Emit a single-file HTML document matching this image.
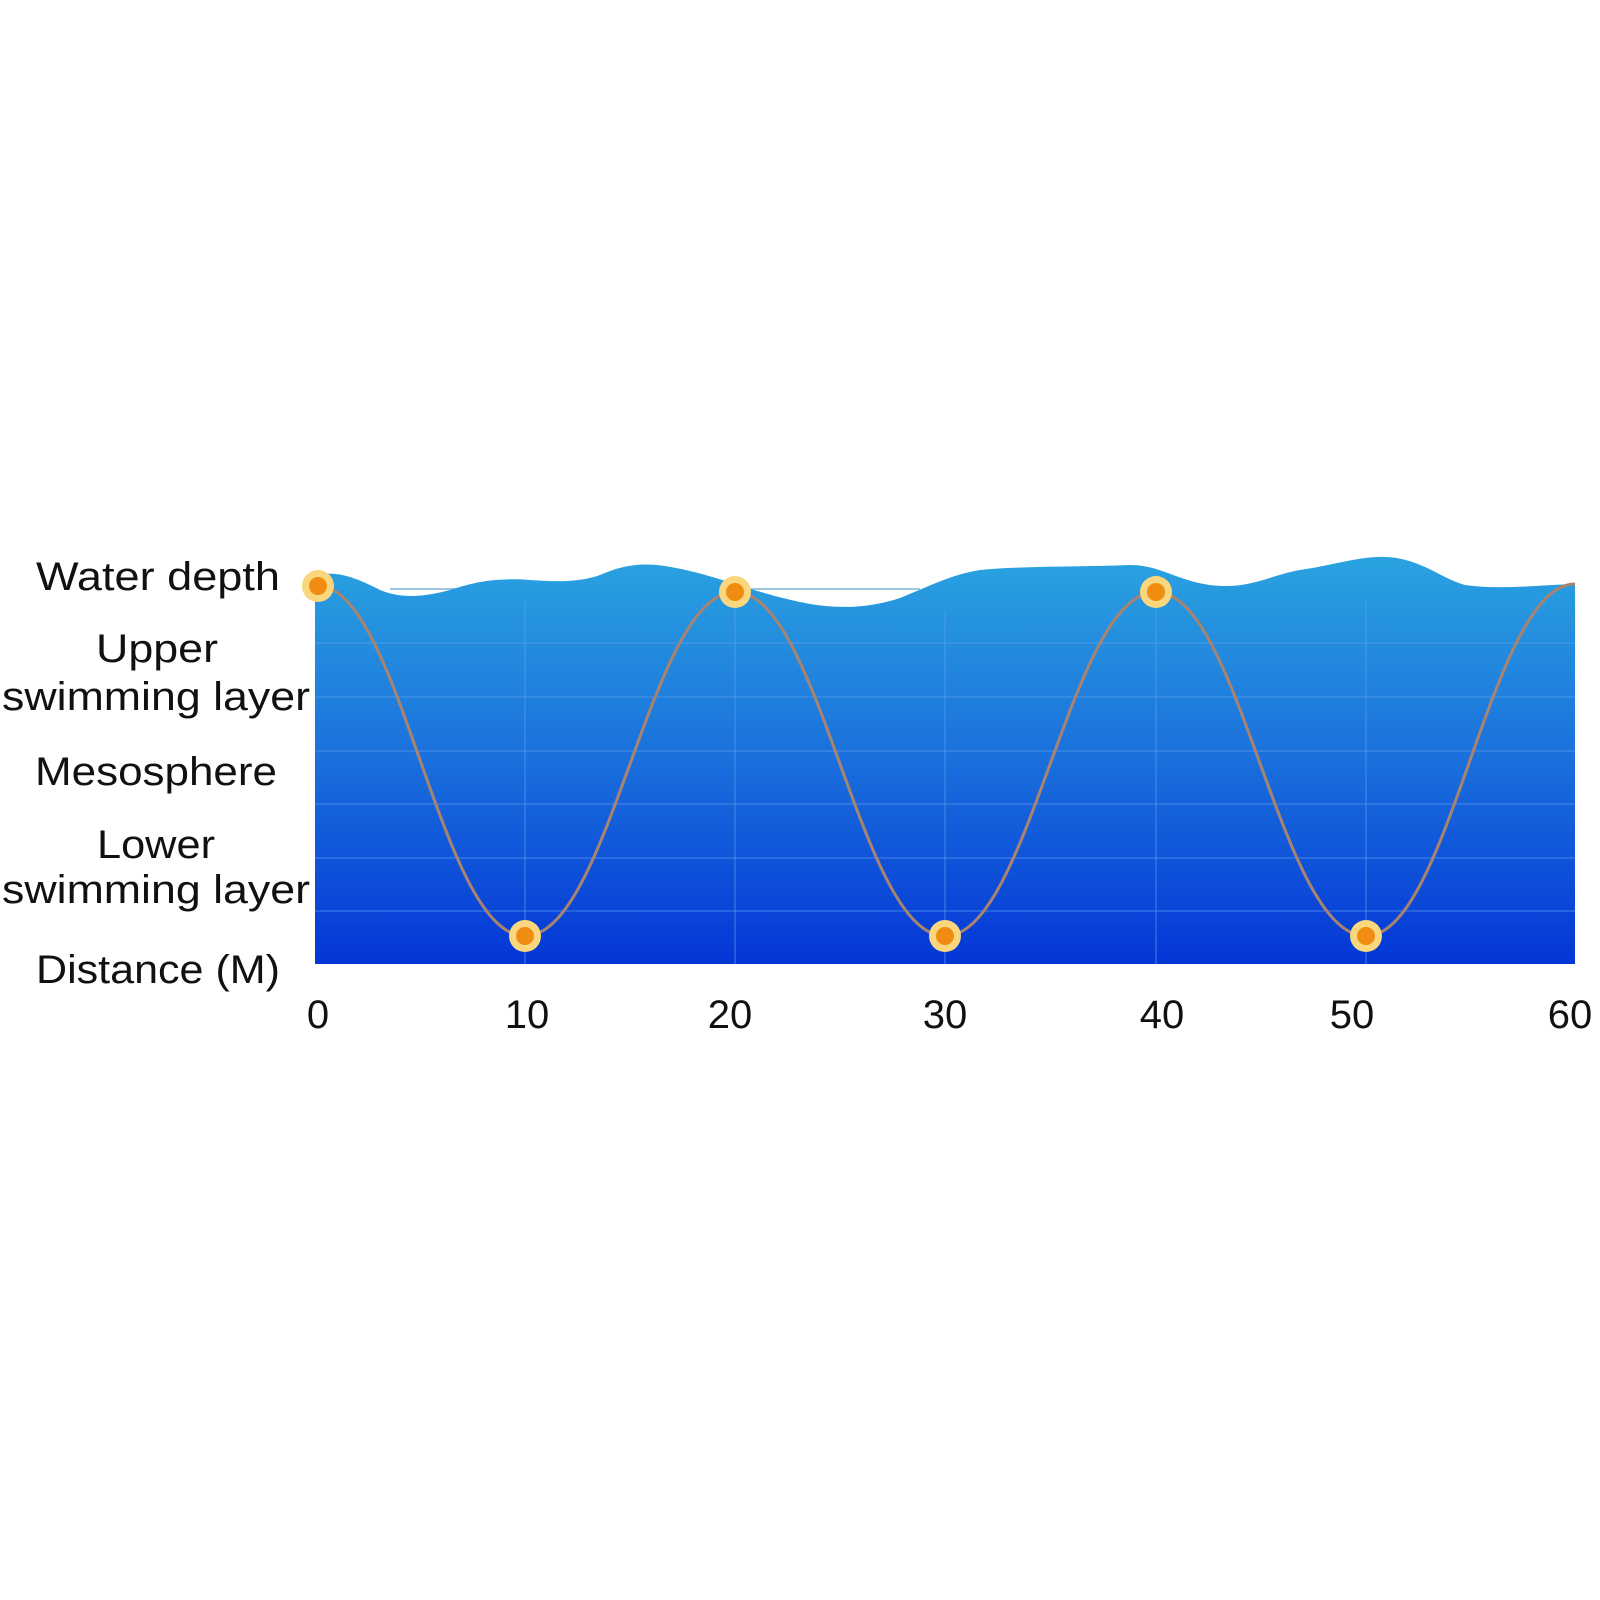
<!DOCTYPE html>
<html><head><meta charset="utf-8"><style>
html,body{margin:0;padding:0;background:#fff;}
svg{display:block;}
text{font-family:"Liberation Sans",sans-serif;fill:#111;}
</style></head><body>
<svg width="1600" height="1600" viewBox="0 0 1600 1600" xmlns="http://www.w3.org/2000/svg">
<defs>
<linearGradient id="g" x1="0" y1="0" x2="0" y2="1">
<stop offset="0" stop-color="#2aa3e0"/>
<stop offset="0.5" stop-color="#1a6fdc"/>
<stop offset="1" stop-color="#0436d6"/>
</linearGradient>
</defs>
<line x1="390" y1="589" x2="920" y2="589" stroke="#7fb3d8" stroke-width="1.5"/>
<path d="M315,575 C340,570 360,580 380,590 C400,598 420,598 450,590 C480,580 500,578 530,580 C560,582 580,582 600,575 C620,566 640,562 665,566 C690,570 710,576 735,584 C760,592 780,598 810,604 C840,609 870,608 900,598 C930,586 950,575 980,570 C1020,566 1080,567 1130,565 C1160,565 1175,580 1210,585 C1250,590 1270,575 1300,570 C1330,566 1360,556 1385,557 C1420,558 1440,578 1465,585 C1500,590 1540,585 1575,584 L1575,964 L315,964 Z" fill="url(#g)"/>
<g stroke="#5fa0f0" stroke-opacity="0.45" stroke-width="1.5">
<line x1="315" y1="643" x2="1575" y2="643"/>
<line x1="315" y1="697" x2="1575" y2="697"/>
<line x1="315" y1="751" x2="1575" y2="751"/>
<line x1="315" y1="804" x2="1575" y2="804"/>
<line x1="315" y1="858" x2="1575" y2="858"/>
<line x1="315" y1="911" x2="1575" y2="911"/>
<line x1="525" y1="600" x2="525" y2="964"/>
<line x1="735" y1="600" x2="735" y2="964"/>
<line x1="945" y1="610" x2="945" y2="964"/>
<line x1="1156" y1="600" x2="1156" y2="964"/>
<line x1="1366" y1="600" x2="1366" y2="964"/>
</g>
<path d="M318,586 C400,586 440,936 525,936 C610,936 650,592 735,592 C820,592 860,936 945,936 C1030,936 1070,592 1156,592 C1240,592 1280,936 1366,936 C1450,936 1490,584 1575,584" fill="none" stroke="#a88470" stroke-width="3"/>
<g>
<circle cx="318" cy="586" r="16" fill="#fad77c"/><circle cx="318" cy="586" r="9" fill="#f08c12"/>
<circle cx="525" cy="936" r="16" fill="#fad77c"/><circle cx="525" cy="936" r="9" fill="#f08c12"/>
<circle cx="735" cy="592" r="16" fill="#fad77c"/><circle cx="735" cy="592" r="9" fill="#f08c12"/>
<circle cx="945" cy="936" r="16" fill="#fad77c"/><circle cx="945" cy="936" r="9" fill="#f08c12"/>
<circle cx="1156" cy="592" r="16" fill="#fad77c"/><circle cx="1156" cy="592" r="9" fill="#f08c12"/>
<circle cx="1366" cy="936" r="16" fill="#fad77c"/><circle cx="1366" cy="936" r="9" fill="#f08c12"/>
</g>
<g font-size="40" text-anchor="middle">
<text x="158" y="590" textLength="244" lengthAdjust="spacingAndGlyphs">Water depth</text>
<text x="157" y="662" textLength="122" lengthAdjust="spacingAndGlyphs">Upper</text>
<text x="156" y="710" textLength="308" lengthAdjust="spacingAndGlyphs">swimming layer</text>
<text x="156" y="785" textLength="242" lengthAdjust="spacingAndGlyphs">Mesosphere</text>
<text x="156" y="858" textLength="118" lengthAdjust="spacingAndGlyphs">Lower</text>
<text x="156" y="903" textLength="308" lengthAdjust="spacingAndGlyphs">swimming layer</text>
<text x="158" y="983" textLength="244" lengthAdjust="spacingAndGlyphs">Distance (M)</text>
<text x="318" y="1028">0</text>
<text x="527" y="1028">10</text>
<text x="730" y="1028">20</text>
<text x="945" y="1028">30</text>
<text x="1162" y="1028">40</text>
<text x="1352" y="1028">50</text>
<text x="1570" y="1028">60</text>
</g>
</svg>
</body></html>
